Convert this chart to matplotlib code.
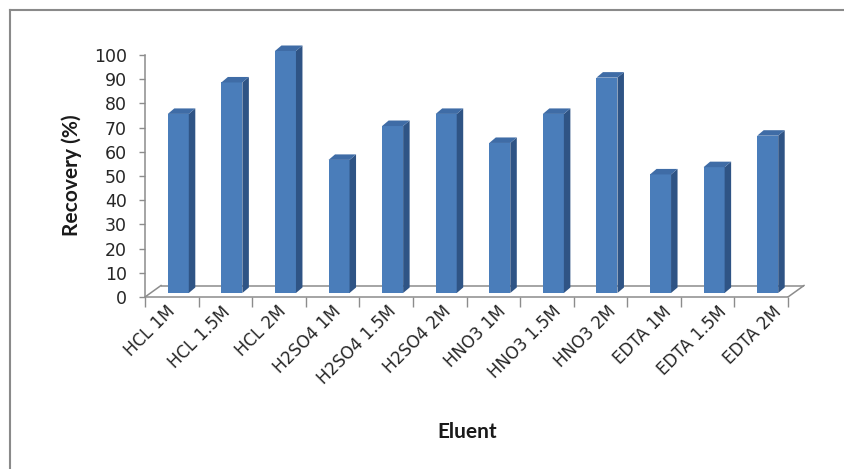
import matplotlib
matplotlib.use("Agg")
import matplotlib.pyplot as plt
from matplotlib.patches import Polygon
from matplotlib.lines import Line2D

# Recovery of metal by eluent type and concentration
categories = ["HCL 1M", "HCL 1.5M", "HCL 2M",
              "H2SO4 1M", "H2SO4 1.5M", "H2SO4 2M",
              "HNO3 1M", "HNO3 1.5M", "HNO3 2M",
              "EDTA 1M", "EDTA 1.5M", "EDTA 2M"]
recovery = [74, 87, 100, 55, 69, 74, 62, 74, 89, 49, 52, 65]
y_ticks = list(range(0, 101, 10))

W, H = 844, 469
DPI = 100
fig = plt.figure(figsize=(W / DPI, H / DPI), dpi=DPI)
fig.patch.set_facecolor("white")

# pixel geometry of the plotting box
x_left, x_front_right, x_right = 145, 788, 808
y_zero, y_top = 297, 43
px_per_cat = (x_front_right - x_left) / len(categories)
px_per_unit = 2.42

n = len(categories)
xlim = (-0.5, -0.5 + (x_right - x_left) / px_per_cat)
ylim = (0, (y_zero - y_top) / px_per_unit)

ax = fig.add_axes([x_left / W, (H - y_zero) / H,
                   (x_right - x_left) / W, (y_zero - y_top) / H])
ax.set_xlim(*xlim)
ax.set_ylim(*ylim)
ax.set_facecolor("none")

axis_col = "#8c8c8c"
for s in ["top", "right"]:
    ax.spines[s].set_visible(False)
ax.spines["left"].set_bounds(0, 100)
ax.spines["bottom"].set_bounds(-0.5, n - 0.5)
for s in ["left", "bottom"]:
    ax.spines[s].set_color(axis_col)
    ax.spines[s].set_linewidth(1.1)

ax.set_yticks(y_ticks)
ax.set_yticklabels([str(t) for t in y_ticks])
ax.tick_params(axis="y", direction="out", length=4, width=1.0, color=axis_col,
               pad=9, labelsize=12.5, labelcolor="#262626")
ax.set_xticks([i - 0.5 for i in range(n + 1)])
ax.set_xticklabels([])
ax.tick_params(axis="x", direction="out", length=7, width=1.0, color=axis_col)

# floor depth (back edge offset) and bar geometry, in data units
floor_dx = 16 / px_per_cat
floor_dy = 11.5 / px_per_unit
bar_w = 21 / px_per_cat
bar_shift = 6.5 / px_per_cat
bar_base = 4 / px_per_unit
depth_dx = 6.5 / px_per_cat
depth_dy = 5.5 / px_per_unit

# floor outline
ax.plot([-0.5 + floor_dx, n - 0.5 + floor_dx], [floor_dy, floor_dy],
        color=axis_col, lw=1.1, zorder=1, solid_capstyle="butt")
ax.plot([-0.5, -0.5 + floor_dx], [0, floor_dy], color=axis_col, lw=1.1, zorder=1)
ax.plot([n - 0.5, n - 0.5 + floor_dx], [0, floor_dy], color=axis_col, lw=1.1, zorder=1)

front_col = "#4a7dba"
side_col = "#2f5485"
top_col = "#3f6ca6"

xs = [i + bar_shift for i in range(n)]
ax.bar(xs, recovery, width=bar_w, bottom=bar_base, color=front_col,
       edgecolor="none", zorder=3)
for x, v in zip(xs, recovery):
    x0 = x - bar_w / 2
    x1 = x + bar_w / 2
    top = bar_base + v
    side = Polygon([(x1, bar_base), (x1 + depth_dx, bar_base + depth_dy),
                    (x1 + depth_dx, top + depth_dy), (x1, top)],
                   closed=True, facecolor=side_col, edgecolor="none", zorder=3)
    cap = Polygon([(x0, top), (x0 + depth_dx, top + depth_dy),
                   (x1 + depth_dx, top + depth_dy), (x1, top)],
                  closed=True, facecolor=top_col, edgecolor="none", zorder=3)
    ax.add_patch(side)
    ax.add_patch(cap)

# rotated category labels; the label row sits on a nearer plane, so it is
# spread slightly wider than the floor edge
label_spread = 1.028
for i, lab in enumerate(categories):
    ax.annotate(lab, xy=(i * label_spread, 0), xycoords="data",
                xytext=(1, -12), textcoords="offset pixels",
                rotation=45, rotation_mode="anchor", ha="right", va="center",
                fontsize=12, color="#262626")

fig.text(72 / W, 1 - 175 / H, "Recovery (%)", rotation=90, ha="center",
         va="center", fontsize=15, fontweight="bold", family="Lato",
         color="#1a1a1a")
fig.text(467 / W, 1 - 432 / H, "Eluent", ha="center", va="center",
         fontsize=15, fontweight="bold", family="Lato", color="#1a1a1a")

# chart frame
fig.add_artist(Line2D([10 / W, 1.0], [1 - 10 / H, 1 - 10 / H],
                      transform=fig.transFigure, color="#8a8a8a", lw=1.5))
fig.add_artist(Line2D([10 / W, 10 / W], [0.0, 1 - 10 / H],
                      transform=fig.transFigure, color="#8a8a8a", lw=1.5))

fig.savefig("out.png", dpi=DPI, facecolor="white")
